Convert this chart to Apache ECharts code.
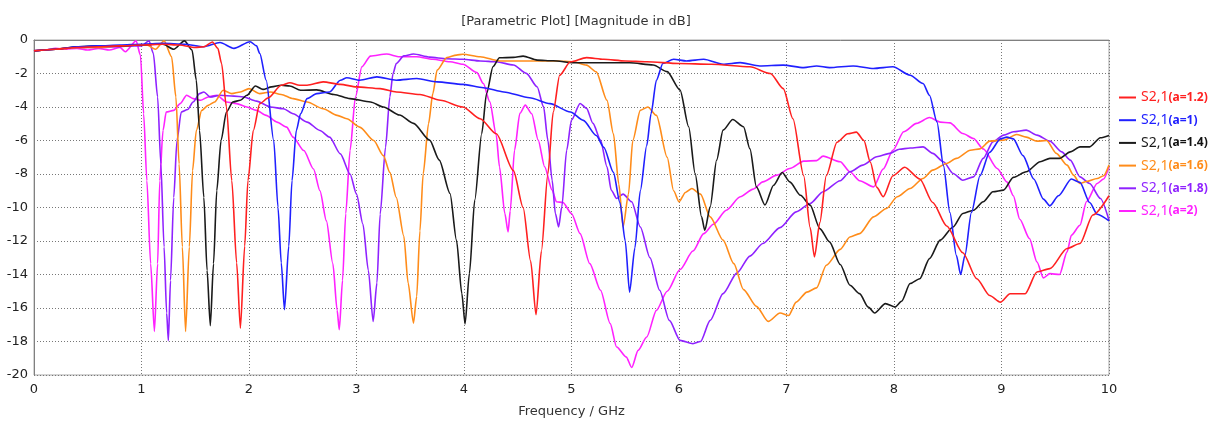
<!DOCTYPE html>
<html>
<head>
<meta charset="utf-8">
<script src="https://cdn.jsdelivr.net/npm/echarts@6/dist/echarts.min.js"></script>
<style>html,body{margin:0;padding:0;background:#fff;}#c{width:1217px;height:424px;}</style>
</head>
<body>
<div id="c"></div>
<script>
const titleText = '[Parametric Plot] [Magnitude in dB]';
const xName = 'Frequency / GHz';
const seriesNames = ['S2,1(a=1.2)', 'S2,1(a=1)', 'S2,1(a=1.4)', 'S2,1(a=1.6)', 'S2,1(a=1.8)', 'S2,1(a=2)'];
const seriesColors = ['#ff2020', '#2020ff', '#1a1a1a', '#ff8c1a', '#8f22ff', '#ff22ff'];

// [frequency GHz, magnitude dB]
const s_a12 = [[0,-0.65],[0.2,-0.55],[0.4,-0.45],[0.6,-0.4],[0.8,-0.35],[1.0,-0.3],[1.2,-0.25],[1.35,-0.3],[1.5,-0.45],[1.58,-0.4],[1.66,-0.12],[1.71,-0.5],[1.745,-1.4],[1.79,-4.0],[1.84,-8.4],[1.885,-13.3],[1.92,-17.2],[1.96,-12.3],[1.99,-8.4],[2.04,-5.4],[2.10,-3.8],[2.18,-3.45],[2.3,-2.7],[2.38,-2.55],[2.47,-2.7],[2.54,-2.7],[2.69,-2.5],[2.85,-2.65],[3.0,-2.8],[3.22,-2.9],[3.37,-3.1],[3.59,-3.25],[3.78,-3.6],[3.99,-4.0],[4.15,-4.7],[4.30,-5.6],[4.46,-7.8],[4.55,-10.0],[4.62,-13.2],[4.67,-16.4],[4.72,-12.6],[4.78,-8.0],[4.83,-4.3],[4.89,-2.1],[4.99,-1.3],[5.14,-1.05],[5.3,-1.15],[5.5,-1.25],[5.7,-1.3],[6.0,-1.4],[6.3,-1.45],[6.66,-1.6],[6.85,-2.0],[6.97,-2.9],[7.06,-4.7],[7.16,-8.1],[7.22,-11.2],[7.26,-12.95],[7.31,-10.9],[7.37,-8.1],[7.47,-6.1],[7.57,-5.6],[7.65,-5.5],[7.72,-6.0],[7.78,-7.3],[7.84,-8.8],[7.90,-9.35],[7.99,-8.1],[8.10,-7.6],[8.24,-8.3],[8.36,-9.7],[8.49,-11.1],[8.64,-12.7],[8.77,-14.25],[8.89,-15.25],[8.99,-15.65],[9.08,-15.15],[9.22,-15.15],[9.33,-13.85],[9.45,-13.65],[9.61,-12.45],[9.73,-12.15],[9.85,-10.45],[10.0,-9.3]];
const s_a10 = [[0,-0.65],[0.2,-0.55],[0.4,-0.4],[0.6,-0.35],[0.8,-0.3],[1.0,-0.25],[1.2,-0.2],[1.4,-0.25],[1.58,-0.4],[1.73,-0.15],[1.86,-0.5],[2.01,-0.1],[2.07,-0.35],[2.10,-0.8],[2.16,-2.4],[2.23,-6.0],[2.27,-10.0],[2.30,-13.3],[2.33,-16.1],[2.37,-12.3],[2.40,-8.4],[2.44,-5.4],[2.48,-4.4],[2.54,-3.5],[2.63,-3.2],[2.75,-3.1],[2.85,-2.4],[2.91,-2.25],[3.03,-2.4],[3.19,-2.2],[3.37,-2.4],[3.56,-2.3],[3.75,-2.5],[3.99,-2.65],[4.18,-2.85],[4.37,-3.1],[4.61,-3.45],[4.80,-3.8],[4.99,-4.3],[5.11,-4.8],[5.23,-5.7],[5.30,-6.4],[5.39,-7.9],[5.45,-9.7],[5.50,-12.0],[5.54,-15.05],[5.59,-12.4],[5.64,-9.0],[5.70,-6.3],[5.74,-4.4],[5.79,-2.4],[5.85,-1.4],[5.95,-1.15],[6.07,-1.25],[6.23,-1.15],[6.41,-1.45],[6.57,-1.35],[6.75,-1.55],[6.97,-1.5],[7.16,-1.65],[7.28,-1.55],[7.40,-1.65],[7.62,-1.55],[7.81,-1.7],[7.99,-1.6],[8.15,-2.1],[8.27,-2.6],[8.33,-3.3],[8.40,-4.9],[8.46,-7.5],[8.52,-10.3],[8.58,-12.85],[8.62,-14.0],[8.66,-12.85],[8.72,-10.3],[8.80,-8.1],[8.89,-6.7],[8.99,-5.9],[9.05,-5.8],[9.11,-5.9],[9.20,-6.9],[9.30,-8.3],[9.39,-9.5],[9.45,-9.9],[9.53,-9.3],[9.65,-8.3],[9.73,-8.5],[9.82,-9.7],[9.89,-10.4],[10.0,-10.8]];
const s_a14 = [[0,-0.65],[0.2,-0.55],[0.4,-0.4],[0.6,-0.35],[0.8,-0.35],[1.0,-0.3],[1.1,-0.25],[1.2,-0.25],[1.3,-0.55],[1.40,-0.05],[1.47,-0.6],[1.51,-2.4],[1.54,-5.4],[1.58,-9.4],[1.61,-13.75],[1.64,-17.05],[1.67,-13.35],[1.70,-9.0],[1.74,-6.0],[1.79,-4.3],[1.85,-3.7],[1.92,-3.6],[1.98,-3.3],[2.06,-2.75],[2.13,-2.95],[2.21,-2.8],[2.30,-2.7],[2.38,-2.75],[2.48,-3.0],[2.63,-2.98],[2.79,-3.25],[2.94,-3.5],[3.13,-3.7],[3.25,-4.0],[3.40,-4.48],[3.53,-4.98],[3.68,-5.98],[3.77,-7.17],[3.87,-9.16],[3.93,-11.95],[3.98,-15.14],[4.01,-16.95],[4.05,-13.95],[4.10,-9.56],[4.165,-5.58],[4.21,-3.19],[4.27,-1.59],[4.33,-1.06],[4.46,-1.04],[4.55,-0.96],[4.68,-1.2],[4.83,-1.24],[5.02,-1.36],[5.23,-1.36],[5.54,-1.36],[5.76,-1.49],[5.89,-1.89],[6.01,-2.99],[6.09,-5.18],[6.15,-7.97],[6.21,-10.56],[6.24,-11.36],[6.29,-9.96],[6.35,-7.17],[6.41,-5.38],[6.50,-4.75],[6.60,-5.18],[6.66,-6.5],[6.72,-8.77],[6.80,-9.85],[6.88,-8.67],[6.96,-7.91],[7.03,-8.47],[7.13,-9.27],[7.22,-9.86],[7.31,-11.26],[7.40,-12.05],[7.50,-13.4],[7.59,-14.64],[7.68,-15.14],[7.76,-15.94],[7.82,-16.3],[7.92,-15.74],[8.01,-15.94],[8.07,-15.6],[8.15,-14.54],[8.24,-14.25],[8.33,-13.05],[8.43,-11.95],[8.55,-11.16],[8.64,-10.36],[8.74,-10.16],[8.83,-9.66],[8.92,-9.06],[9.02,-8.96],[9.11,-8.2],[9.23,-7.87],[9.36,-7.27],[9.45,-7.07],[9.54,-7.07],[9.64,-6.68],[9.73,-6.38],[9.82,-6.38],[9.92,-5.84],[10.0,-5.7]];
const s_a16 = [[0,-0.65],[0.2,-0.55],[0.4,-0.45],[0.6,-0.45],[0.8,-0.35],[0.95,-0.3],[1.05,-0.3],[1.13,-0.55],[1.21,-0.05],[1.28,-1.0],[1.32,-3.4],[1.35,-7.4],[1.38,-12.35],[1.41,-17.4],[1.445,-12.35],[1.475,-7.8],[1.51,-5.4],[1.56,-4.2],[1.62,-3.9],[1.68,-3.7],[1.76,-3.0],[1.84,-3.2],[1.92,-3.1],[2.0,-2.9],[2.10,-3.2],[2.2,-3.1],[2.30,-3.25],[2.41,-3.5],[2.54,-3.7],[2.69,-4.1],[2.82,-4.5],[2.91,-4.7],[3.03,-5.2],[3.16,-6.0],[3.25,-6.9],[3.31,-7.9],[3.37,-9.4],[3.44,-11.7],[3.48,-14.5],[3.53,-16.9],[3.56,-15.3],[3.59,-11.4],[3.62,-8.0],[3.67,-5.0],[3.71,-3.2],[3.75,-1.8],[3.84,-1.05],[3.93,-0.9],[3.99,-0.85],[4.15,-1.0],[4.33,-1.25],[4.52,-1.25],[4.71,-1.25],[4.86,-1.25],[5.02,-1.3],[5.14,-1.5],[5.23,-1.9],[5.33,-3.6],[5.39,-5.6],[5.44,-8.6],[5.48,-11.16],[5.53,-9.2],[5.57,-6.0],[5.64,-4.2],[5.71,-4.0],[5.79,-4.5],[5.89,-7.0],[5.95,-9.0],[6.0,-9.66],[6.06,-9.1],[6.12,-8.87],[6.20,-9.2],[6.29,-10.56],[6.41,-11.95],[6.51,-13.35],[6.60,-14.9],[6.72,-15.9],[6.83,-16.8],[6.94,-16.3],[7.02,-16.45],[7.09,-15.65],[7.19,-15.05],[7.28,-14.8],[7.37,-13.45],[7.50,-12.5],[7.59,-11.76],[7.68,-11.56],[7.81,-10.56],[7.93,-10.06],[8.03,-9.36],[8.15,-8.87],[8.27,-8.27],[8.36,-7.77],[8.49,-7.37],[8.58,-7.07],[8.71,-6.58],[8.80,-6.5],[8.89,-6.04],[9.02,-5.98],[9.14,-5.64],[9.23,-5.8],[9.33,-6.04],[9.42,-6.0],[9.51,-6.77],[9.61,-7.47],[9.67,-8.07],[9.73,-8.57],[9.79,-8.45],[9.89,-8.27],[9.95,-8.1],[10.0,-7.47]];
const s_a18 = [[0,-0.65],[0.2,-0.55],[0.4,-0.45],[0.6,-0.45],[0.8,-0.4],[0.9,-0.35],[1.0,-0.35],[1.07,-0.05],[1.11,-0.8],[1.15,-3.4],[1.18,-7.4],[1.21,-12.35],[1.234,-16.3],[1.25,-17.95],[1.27,-14.35],[1.30,-9.4],[1.33,-6.0],[1.37,-4.3],[1.43,-4.15],[1.48,-3.7],[1.54,-3.2],[1.58,-3.1],[1.64,-3.4],[1.73,-3.3],[1.86,-3.35],[1.95,-3.4],[2.07,-3.65],[2.20,-4.0],[2.32,-4.1],[2.41,-4.4],[2.54,-4.9],[2.66,-5.4],[2.75,-5.8],[2.85,-6.8],[2.94,-8.0],[3.0,-9.2],[3.06,-11.0],[3.11,-13.75],[3.155,-16.8],[3.19,-14.5],[3.22,-10.4],[3.27,-6.4],[3.31,-3.4],[3.34,-2.0],[3.37,-1.4],[3.44,-0.95],[3.53,-0.84],[3.68,-1.02],[3.84,-1.12],[3.99,-1.15],[4.15,-1.25],[4.30,-1.3],[4.46,-1.49],[4.58,-1.99],[4.68,-2.79],[4.74,-3.98],[4.78,-5.98],[4.82,-8.37],[4.85,-10.36],[4.88,-11.16],[4.91,-9.96],[4.955,-6.58],[5.0,-4.78],[5.08,-3.79],[5.14,-4.08],[5.20,-4.98],[5.27,-5.98],[5.33,-7.57],[5.37,-8.97],[5.42,-9.46],[5.48,-9.2],[5.56,-9.66],[5.64,-11.16],[5.73,-13.0],[5.82,-14.94],[5.91,-16.74],[6.01,-17.93],[6.13,-18.13],[6.20,-18.0],[6.29,-16.74],[6.41,-15.14],[6.54,-13.9],[6.66,-12.9],[6.78,-12.15],[6.94,-11.2],[7.09,-10.26],[7.22,-9.76],[7.34,-9.06],[7.50,-8.4],[7.59,-7.87],[7.71,-7.47],[7.84,-6.97],[7.96,-6.77],[8.05,-6.52],[8.15,-6.45],[8.27,-6.38],[8.36,-6.77],[8.46,-7.27],[8.55,-7.97],[8.64,-8.37],[8.74,-8.17],[8.83,-7.07],[8.92,-6.08],[9.02,-5.68],[9.11,-5.48],[9.23,-5.38],[9.33,-5.68],[9.45,-6.04],[9.56,-6.68],[9.64,-7.17],[9.73,-8.17],[9.82,-8.57],[9.92,-9.46],[10.0,-10.76]];
const s_a20 = [[0,-0.65],[0.1,-0.6],[0.2,-0.5],[0.3,-0.55],[0.4,-0.5],[0.5,-0.6],[0.6,-0.5],[0.7,-0.6],[0.8,-0.45],[0.85,-0.7],[0.95,-0.05],[0.99,-0.9],[1.02,-4.4],[1.05,-8.4],[1.085,-13.35],[1.12,-17.4],[1.15,-13.35],[1.17,-8.4],[1.20,-5.4],[1.23,-4.3],[1.30,-4.2],[1.36,-3.8],[1.42,-3.3],[1.48,-3.5],[1.55,-3.6],[1.62,-3.4],[1.70,-3.3],[1.79,-3.7],[1.885,-3.8],[1.98,-4.0],[2.07,-4.2],[2.16,-4.5],[2.26,-4.9],[2.35,-5.2],[2.41,-5.8],[2.51,-6.6],[2.60,-7.7],[2.66,-9.0],[2.72,-10.8],[2.78,-13.35],[2.82,-16.14],[2.84,-17.3],[2.87,-14.35],[2.90,-10.36],[2.94,-6.6],[2.99,-3.4],[3.05,-1.6],[3.13,-0.96],[3.28,-0.84],[3.40,-1.0],[3.56,-1.0],[3.71,-1.15],[3.87,-1.3],[3.99,-1.45],[4.12,-1.95],[4.18,-2.6],[4.24,-3.69],[4.30,-5.68],[4.33,-7.57],[4.38,-10.36],[4.41,-11.46],[4.43,-10.2],[4.47,-6.58],[4.52,-4.38],[4.57,-3.89],[4.63,-4.4],[4.69,-5.98],[4.75,-7.57],[4.82,-8.97],[4.86,-9.66],[4.92,-9.7],[5.0,-10.36],[5.08,-11.56],[5.17,-13.35],[5.27,-14.94],[5.36,-16.93],[5.42,-18.33],[5.51,-18.93],[5.56,-19.55],[5.62,-18.53],[5.70,-17.73],[5.79,-16.14],[5.89,-15.0],[6.01,-13.7],[6.13,-12.6],[6.23,-11.56],[6.32,-11.0],[6.44,-10.16],[6.57,-9.36],[6.69,-8.9],[6.78,-8.47],[6.91,-8.07],[7.03,-7.67],[7.16,-7.23],[7.28,-7.2],[7.34,-6.93],[7.50,-7.27],[7.59,-7.87],[7.68,-8.4],[7.81,-8.77],[7.90,-7.7],[7.99,-6.58],[8.09,-5.48],[8.21,-4.98],[8.33,-4.63],[8.43,-4.9],[8.52,-4.95],[8.64,-5.58],[8.74,-5.88],[8.83,-6.5],[8.96,-7.67],[9.05,-8.47],[9.11,-9.3],[9.17,-10.7],[9.26,-11.85],[9.33,-13.25],[9.39,-14.2],[9.45,-13.95],[9.54,-14.0],[9.61,-12.65],[9.65,-11.66],[9.73,-11.06],[9.79,-9.66],[9.89,-8.57],[9.95,-8.3],[10.0,-7.57]];
const seriesData = [s_a12, s_a10, s_a14, s_a16, s_a18, s_a20];

const chart = echarts.init(document.getElementById('c'), null, {renderer: 'canvas'});
const FONT = 'DejaVu Sans';
const LFONT = 'Noto Sans';
const rich = {};
seriesColors.forEach(function (c, i) {
  rich['n' + i] = {color: c, fontSize: 14, fontFamily: LFONT, lineHeight: 17, height: 17};
  rich['p' + i] = {color: i === 2 ? '#111' : c, fontSize: 12, fontWeight: 'bold', fontFamily: LFONT, lineHeight: 17, height: 17};
});

chart.setOption({
  backgroundColor: '#ffffff',
  animation: false,
  title: {
    text: titleText,
    left: 571, top: 10, textAlign: 'center',
    textStyle: {fontFamily: FONT, fontSize: 13, fontWeight: 'normal', color: '#333'}
  },
  grid: {left: 34, right: 108, top: 40, bottom: 49, show: true, borderColor: '#a8a8a8', borderWidth: 1, backgroundColor: 'transparent'},
  legend: {
    orient: 'vertical', left: 1119, top: 89, itemWidth: 17, itemHeight: 2, itemGap: 5.7,
    padding: 0,
    icon: 'rect',
    data: seriesNames,
    formatter: function (name) {
      const i = seriesNames.indexOf(name);
      const p = name.indexOf('(');
      return '{n' + i + '|' + name.slice(0, p) + '}{p' + i + '|' + name.slice(p) + '}';
    },
    textStyle: {rich: rich, lineHeight: 17, padding: [0, 0, 0, 0]}
  },
  xAxis: {
    type: 'value', min: 0, max: 10, interval: 1,
    name: xName, nameLocation: 'middle', nameGap: 30,
    nameTextStyle: {fontFamily: FONT, fontSize: 13, color: '#333'},
    axisLine: {show: true, lineStyle: {color: '#808080', width: 1}},
    axisTick: {show: false},
    axisLabel: {fontFamily: FONT, fontSize: 13, color: '#222', margin: 8},
    splitLine: {show: true, lineStyle: {color: '#777', type: [1, 2], width: 1}}
  },
  yAxis: {
    type: 'value', min: -20, max: 0, interval: 2,
    axisLine: {show: true, lineStyle: {color: '#808080', width: 1}},
    axisTick: {show: false},
    axisLabel: {fontFamily: FONT, fontSize: 13, color: '#222', margin: 6},
    splitLine: {show: true, lineStyle: {color: '#777', type: [1, 2], width: 1}}
  },
  series: seriesData.map(function (d, i) {
    return {
      name: seriesNames[i], type: 'line', data: d,
      showSymbol: false, symbol: 'none', smooth: 0.25, smoothMonotone: 'x',
      lineStyle: {color: seriesColors[i], width: 1.6},
      itemStyle: {color: seriesColors[i]},
      z: 10 - i
    };
  })
});
</script>
</body>
</html>
